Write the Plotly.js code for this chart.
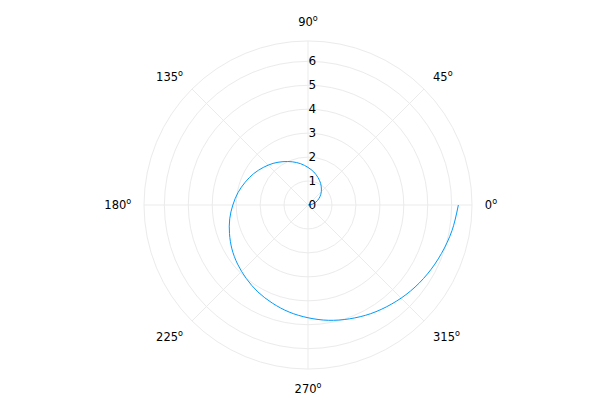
<!DOCTYPE html>
<html>
<head>
<meta charset="utf-8">
<script src="https://cdn.plot.ly/plotly-3.0.1.min.js"></script>
<style>
  html, body { margin: 0; padding: 0; background: #fff; }
  #chart { width: 600px; height: 400px; }
</style>
</head>
<body>
<div id="chart"></div>
<script>
// spiral, angle in degrees and radius
const thetaDeg = [0, 10, 20, 30, 40, 50, 60, 70, 80, 90, 100, 110, 120, 130, 140, 150, 160, 170, 180,
                  190, 200, 210, 220, 230, 240, 250, 260, 270, 280, 290, 300, 310, 320, 330, 340, 350, 360];
const radius = [0.00, 0.17, 0.35, 0.52, 0.70, 0.87, 1.05, 1.22, 1.40, 1.57, 1.75, 1.92, 2.09, 2.27, 2.44, 2.62, 2.79, 2.97, 3.14,
                3.32, 3.49, 3.67, 3.84, 4.01, 4.19, 4.36, 4.54, 4.71, 4.89, 5.06, 5.24, 5.41, 5.59, 5.76, 5.93, 6.11, 6.28];

const angleTicks = [0, 45, 90, 135, 180, 225, 270, 315];
const angleLabels = ["0<sup>o</sup>", "45<sup>o</sup>", "90<sup>o</sup>", "135<sup>o</sup>",
                     "180<sup>o</sup>", "225<sup>o</sup>", "270<sup>o</sup>", "315<sup>o</sup>"];
const radialTicks = [0, 1, 2, 3, 4, 5, 6];
const radialMax = 6.85;

const gridCol = "#ebebeb";

var data = [
    {
        type: "scatterpolar",
        mode: "lines",
        theta: thetaDeg,
        r: radius,
        line: { color: "#009AFA", width: 1, shape: "spline" },
        hoverinfo: "none"
    }
];

var layout = {
    width: 600,
    height: 400,
    margin: { t: 0, r: 0, l: 0, b: 0 },
    showlegend: false,
    paper_bgcolor: "#ffffff",
    font: { family: "DejaVu Sans", size: 11, color: "#000000" },
    polar: {
        domain: { x: [0.24, 0.7867], y: [0.0775, 0.8975] },
        bgcolor: "#ffffff",
        radialaxis: {
            range: [0, radialMax],
            tickmode: "array",
            tickvals: radialTicks,
            ticktext: radialTicks.map(String),
            angle: 90,
            side: "clockwise",
            tickangle: 90,
            showline: false,
            ticks: "",
            gridcolor: gridCol,
            gridwidth: 1,
            tickfont: { size: 12 }
        },
        angularaxis: {
            rotation: 0,
            direction: "counterclockwise",
            tickmode: "array",
            tickvals: angleTicks,
            ticktext: angleLabels,
            ticks: "outside",
            ticklen: 10,
            tickcolor: "rgba(0,0,0,0)",
            showline: true,
            linecolor: gridCol,
            linewidth: 1,
            gridcolor: gridCol,
            gridwidth: 1,
            tickfont: { size: 11.5 }
        }
    }
};

Plotly.newPlot("chart", data, layout, { staticPlot: true });
</script>
</body>
</html>
